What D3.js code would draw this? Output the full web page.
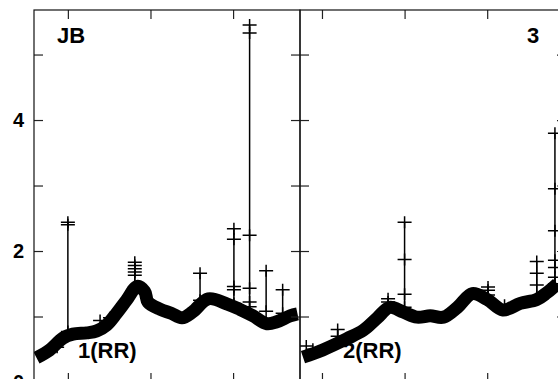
<!DOCTYPE html>
<html>
<head>
<meta charset="utf-8">
<script src="https://cdn.jsdelivr.net/npm/d3@7"></script>
<style>
  html, body { margin: 0; padding: 0; background: #fff; }
  svg { display: block; }
  text { font-family: "Liberation Sans", Arial, sans-serif; font-weight: bold; fill: #000; }
</style>
</head>
<body>
<div id="chart"></div>
<script>
// ---------- data ----------
const yTicks = [0, 1, 2, 3, 4, 5];
const yTickLabels = ["0", "", "2", "", "4", ""];
const xTicks = [100, 200, 300];

const panelNames = ["JB", "3"];
const seriesNames = ["1(RR)", "2(RR)"];

// panel 1 : main trace
const p1X = [62, 78, 94, 106, 123, 135, 147, 159, 171, 184, 193, 197, 212, 225, 238, 251, 270, 293, 308, 324, 341, 353, 369, 378];
const p1Y = [0.37, 0.49, 0.67, 0.73, 0.75, 0.78, 0.87, 1.05, 1.25, 1.46, 1.38, 1.22, 1.11, 1.05, 0.98, 1.07, 1.27, 1.19, 1.11, 1.01, 0.89, 0.92, 1.01, 1.04];
// panel 1 : outlier spikes (x, values)
const p1SpikeX = [87, 100, 139, 151, 181, 260, 301, 320, 340, 360];
const p1SpikeV = [
  [0.53],
  [0.77, 2.40, 2.44],
  [0.94],
  [0.98],
  [1.45, 1.63, 1.68, 1.73, 1.78, 1.83],
  [1.25, 1.66],
  [1.20, 1.41, 1.46, 2.18, 2.34],
  [1.05, 1.15, 1.22, 1.43, 2.24, 5.33, 5.45],
  [1.08, 1.70],
  [1.05, 1.41]
];

// panel 2 : main trace
const p2X = [77, 101, 130, 150, 167, 182, 198, 215, 231, 247, 264, 282, 300, 319, 340, 360, 372, 385];
const p2Y = [0.38, 0.49, 0.66, 0.79, 0.98, 1.14, 1.07, 0.99, 1.01, 0.99, 1.14, 1.35, 1.26, 1.10, 1.20, 1.26, 1.36, 1.50];
// panel 2 : outlier spikes
const p2SpikeX = [81, 89, 119, 180, 200, 301, 321, 360, 382];
const p2SpikeV = [
  [0.55],
  [0.50],
  [0.70, 0.80],
  [1.22, 1.27],
  [1.14, 1.34, 1.87, 2.44],
  [1.33, 1.40, 1.45],
  [1.17],
  [1.30, 1.48, 1.66, 1.84],
  [1.50, 1.60, 1.75, 1.86, 2.31, 2.95, 3.80]
];

const p1Domain = [59, 381];
const p2Domain = [73.4, 395.4];
const yDomain = [0, 5.68];

// ---------- layout ----------
const W = 558, H = 379;
const plotTop = 10, plotBottom = 382;
const panels = [
  { x0: 34, x1: 300, dom: p1Domain, X: p1X, Y: p1Y, sx: p1SpikeX, sv: p1SpikeV, name: panelNames[0], series: seriesNames[0], nameX: 57, serX: 78, labels: true },
  { x0: 300, x1: 566, dom: p2Domain, X: p2X, Y: p2Y, sx: p2SpikeX, sv: p2SpikeV, name: panelNames[1], series: seriesNames[1], nameX: 527, serX: 343, labels: false }
];

const svg = d3.select("#chart").append("svg").attr("width", W).attr("height", H);
const y = d3.scaleLinear().domain(yDomain).range([plotBottom, plotTop]);

panels.forEach(p => {
  const x = d3.scaleLinear().domain(p.dom).range([p.x0, p.x1]);
  const g = svg.append("g");
  const clipId = "clip" + p.x0;
  svg.append("clipPath").attr("id", clipId).append("rect")
    .attr("x", p.x0).attr("y", plotTop).attr("width", p.x1 - p.x0).attr("height", plotBottom - plotTop);
  const plot = g.append("g").attr("clip-path", `url(#${clipId})`);

  // main thick trace
  const line = d3.line().x((d, i) => x(p.X[i])).y(d => y(d)).curve(d3.curveCatmullRom.alpha(0.5));
  plot.append("path").datum(p.Y).attr("d", line)
    .attr("fill", "none").attr("stroke", "#000").attr("stroke-width", 13)
    .attr("stroke-linejoin", "round").attr("stroke-linecap", "butt");

  // spikes
  p.sx.forEach((sxv, i) => {
    const vals = p.sv[i];
    const vmin = d3.min(vals), vmax = d3.max(vals);
    plot.append("line")
      .attr("x1", x(sxv)).attr("x2", x(sxv))
      .attr("y1", y(vmin)).attr("y2", y(vmax))
      .attr("stroke", "#000").attr("stroke-width", 1.5);
    vals.forEach(v => {
      const cx = x(sxv), cy = y(v);
      plot.append("path")
        .attr("d", `M${cx - 7},${cy}H${cx + 7}M${cx},${cy - 6}V${cy + 6}`)
        .attr("stroke", "#000").attr("stroke-width", 1.5).attr("fill", "none");
    });
  });

  // axes (inward ticks)
  const axL = d3.axisLeft(y).tickValues(yTicks).tickSize(-9).tickSizeOuter(0).tickPadding(10)
    .tickFormat((d, i) => p.labels ? yTickLabels[i] : "");
  const axR = d3.axisRight(y).tickValues(yTicks).tickSize(-9).tickSizeOuter(0).tickFormat("");
  const axT = d3.axisTop(x).tickValues(xTicks).tickSize(-9).tickSizeOuter(0).tickFormat("");
  const axB = d3.axisBottom(x).tickValues(xTicks).tickSize(-9).tickSizeOuter(0).tickFormat("");

  const gl = g.append("g").attr("transform", `translate(${p.x0},0)`).call(axL);
  const gr = g.append("g").attr("transform", `translate(${p.x1},0)`).call(axR);
  const gt = g.append("g").attr("transform", `translate(0,${plotTop})`).call(axT);
  const gb = g.append("g").attr("transform", `translate(0,${plotBottom})`).call(axB);
  [gl, gr, gt, gb].forEach(a => {
    a.select(".domain").remove();
    a.selectAll(".tick line").attr("stroke", "#222").attr("stroke-width", 1.2);
  });
  gl.selectAll(".tick text")
    .style("font-size", "20px").style("font-family", "'Liberation Sans', Arial, sans-serif")
    .style("font-weight", "bold").style("fill", "#000");

  // frame
  g.append("rect").attr("x", p.x0).attr("y", plotTop).attr("width", p.x1 - p.x0).attr("height", plotBottom - plotTop)
    .attr("fill", "none").attr("stroke", "#111").attr("stroke-width", 1.2);

  // labels
  g.append("text").attr("x", p.nameX).attr("y", 43).style("font-size", "22px").text(p.name);
  g.append("text").attr("x", p.serX).attr("y", 358).style("font-size", "22px").text(p.series);
});
</script>
</body>
</html>
